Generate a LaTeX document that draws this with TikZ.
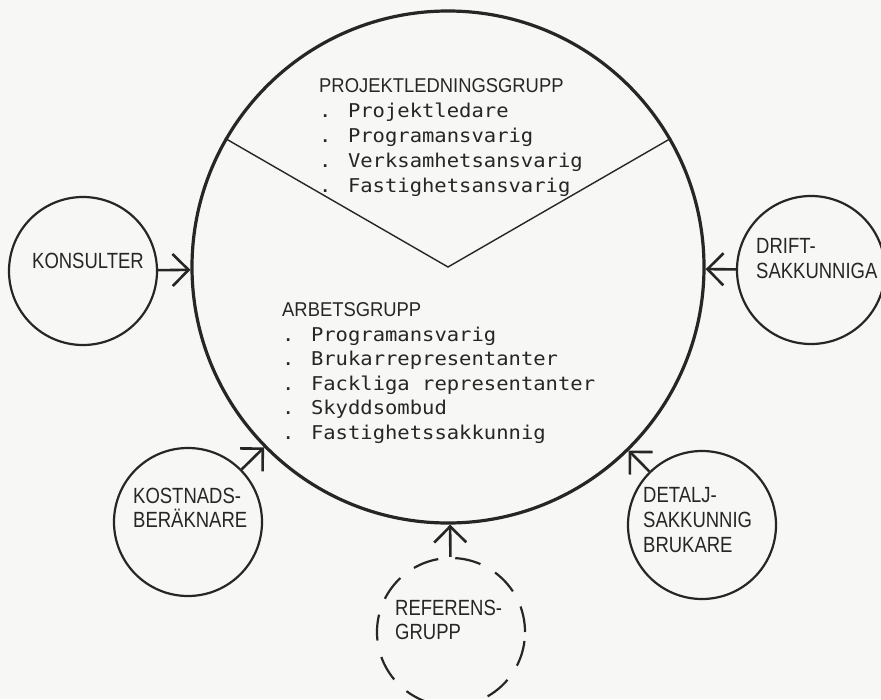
\documentclass[tikz,border=0pt]{standalone}
\usepackage{fontspec}
\setmainfont{Liberation Sans}
\newfontfamily\condsans[FakeStretch=0.84]{Liberation Sans}
\newfontfamily\headsans[FakeStretch=0.92]{Liberation Sans}
\newfontfamily\monofont[FakeStretch=1.08]{DejaVu Sans Mono}
\usetikzlibrary{arrows.meta}
\definecolor{ink}{HTML}{262626}
\definecolor{paper}{HTML}{F7F7F5}
\tikzset{
  x=1pt, y=-1pt,
  bigcirc/.style={circle, draw=ink, line width=3.2pt, inner sep=0pt, minimum size=512pt},
  smallcirc/.style={circle, draw=ink, line width=2.2pt, inner sep=0pt, minimum size=148pt},
  dashcirc/.style={smallcirc, dash pattern=on 26pt off 17pt},
  divider/.style={draw=ink, line width=1.4pt},
  arr/.style={draw=ink, line width=2.6pt, -{Straight Barb[length=16pt,width=32pt]}},
  heading/.style={anchor=base west, inner sep=0pt, text=ink, font=\headsans\fontsize{20}{24}\selectfont},
  item/.style={anchor=base west, inner sep=0pt, text=ink, font=\monofont\fontsize{19}{22}\selectfont},
  clabel/.style={anchor=base west, inner sep=0pt, text=ink, font=\condsans\fontsize{22}{26}\selectfont},
}
\begin{document}
\begin{tikzpicture}
\clip (0,0) rectangle (881,699);
\fill[paper] (0,0) rectangle (881,699);

% main circle
\node[bigcirc] (big) at (448,267) {};
\coordinate (mid) at (448,267);
\draw[divider] (big.150) -- (mid) -- (big.30);

% surrounding circles
\node[smallcirc] (kons) at (83,271) {};
\node[smallcirc] (drift) at (811,270) {};
\node[smallcirc] (kost) at (188,522) {};
\node[smallcirc] (detalj) at (702,525) {};
\node[dashcirc] (ref) at (451,632) {};

% arrows
\draw[arr] (kons) -- (big);
\draw[arr] (drift) -- (big);
\draw[arr] (kost) -- (big);
\draw[arr] (detalj) -- (big);
\draw[arr] (ref) -- (big);

% upper text
\node[heading] (plg) at (319,92) {PROJEKTLEDNINGSGRUPP};
\node[item] (p1) at (319,117) {. Projektledare};
\node[item] (p2) at (319,142) {. Programansvarig};
\node[item] (p3) at (319,167) {. Verksamhetsansvarig};
\node[item] (p4) at (319,192) {. Fastighetsansvarig};

% lower text
\node[heading] (ag) at (282,316) {ARBETSGRUPP};
\node[item] (a1) at (282,341) {. Programansvarig};
\node[item] (a2) at (282,365) {. Brukarrepresentanter};
\node[item] (a3) at (282,390) {. Fackliga representanter};
\node[item] (a4) at (282,414) {. Skyddsombud};
\node[item] (a5) at (282,439) {. Fastighetssakkunnig};

% circle labels
\node[clabel] (tkons) at (32,268) {KONSULTER};
\node[clabel] (tdrift1) at (756,253) {DRIFT-};
\node[clabel] (tdrift2) at (756,278) {SAKKUNNIGA};
\node[clabel] (tkost1) at (133,503) {KOSTNADS-};
\node[clabel] (tkost2) at (133,527) {BERÄKNARE};
\node[clabel] (tdet1) at (643,502) {DETALJ-};
\node[clabel] (tdet2) at (643,527) {SAKKUNNIG};
\node[clabel] (tdet3) at (643,552) {BRUKARE};
\node[clabel] (tref1) at (395,615) {REFERENS-};
\node[clabel] (tref2) at (395,639) {GRUPP};
\end{tikzpicture}
\end{document}
